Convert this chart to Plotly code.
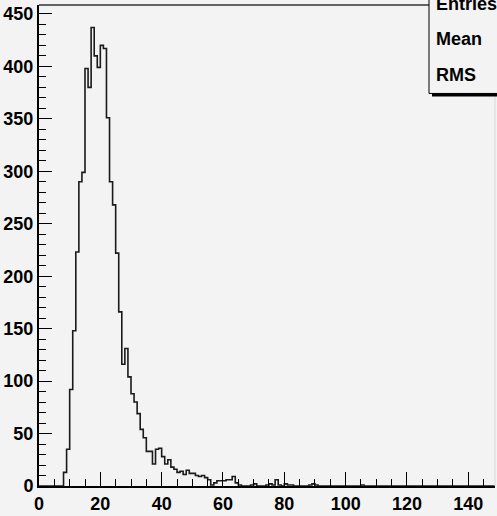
import numpy as np
import plotly.graph_objects as go

# Histogram contents, one entry per unit-width bin starting at x = 0
counts = [
    0, 0, 0, 0, 0, 0, 0, 0, 13, 35,            # 0-9
    92, 148, 223, 290, 299, 398, 380, 437, 410, 399,   # 10-19
    420, 417, 351, 290, 268, 222, 166, 116, 131, 104,  # 20-29
    88, 80, 69, 54, 46, 33, 33, 21, 35, 36,     # 30-39
    28, 21, 25, 18, 16, 13, 14, 11, 15, 12,     # 40-49
    12, 10, 9, 10, 8, 6, 1, 3, 5, 5,            # 50-59
    5, 6, 6, 9, 3, 1, 0, 0, 0, 1,               # 60-69
    2, 0, 0, 0, 1, 2, 1, 6, 1, 0,               # 70-79
    2, 1, 1, 0, 0, 0, 0, 0, 1, 2,               # 80-89
    1, 0, 0, 0, 0, 0, 0, 0, 0, 0,               # 90-99
    0, 0, 0, 0, 0, 1, 0, 0, 0, 0,               # 100-109
    0, 0, 0, 0, 0, 0, 0, 0, 0, 0,               # 110-119
    0, 0, 0, 0, 0, 0, 0, 0, 0, 0,               # 120-129
    0, 0, 0, 0, 0, 0, 0, 0, 0, 0,               # 130-139
    0, 0, 0, 0, 0, 0, 0, 0, 0,                  # 140-148
]
bin_width = 1.0
x_low = 0.0

stat_labels = ["Entries", "Mean", "RMS"]

x_range = [0, 148.7]
y_range = [0, 458.5]

BG = "#f3f3f3"
FONT = "Liberation Sans Narrow, Arial Narrow, Liberation Sans, Arial"

edges = x_low + bin_width * np.arange(len(counts) + 1)
ys = list(counts) + [counts[-1]]

fig = go.Figure()
fig.add_trace(go.Scatter(
    x=edges, y=ys, mode="lines", line_shape="hv",
    line=dict(color="#1a1a1a", width=1.6),
    hoverinfo="skip", showlegend=False,
))

W, H = 497, 516
L, R, T, B = 39, 2, 5, 27
pw, ph = W - L - R, H - T - B


def px_x(px):
    return (px - L) / pw


def px_y(py):
    return (H - B - py) / ph


# frame: thin top and right edges
fig.add_shape(type="line", xref="paper", yref="paper",
              x0=0, x1=px_x(429), y0=1, y1=1,
              line=dict(color="#333333", width=1.5))
fig.add_shape(type="line", xref="paper", yref="paper",
              x0=1, x1=1, y0=0, y1=1,
              line=dict(color="#d8d8d8", width=1))

# statistics box with drop shadow
fig.add_shape(type="rect", xref="paper", yref="paper",
              x0=px_x(432), x1=px_x(510), y0=px_y(97), y1=px_y(-20),
              line=dict(width=0), fillcolor="black")
fig.add_shape(type="rect", xref="paper", yref="paper",
              x0=px_x(429), x1=px_x(510), y0=px_y(94), y1=px_y(-20),
              line=dict(color="black", width=1), fillcolor=BG)

for label, yc in zip(stat_labels, [4, 39, 75]):
    fig.add_annotation(
        text=label, xref="paper", yref="paper",
        x=px_x(434), y=px_y(yc), xanchor="left", yanchor="middle",
        showarrow=False,
        font=dict(family=FONT, size=18, color="black", weight="bold"),
    )

tickfont = dict(family=FONT, size=18, color="black", weight="bold")

fig.update_xaxes(
    range=x_range, showgrid=False, zeroline=False,
    showline=True, linecolor="black", linewidth=2,
    ticks="inside", ticklen=14, tickwidth=1.2, tickcolor="black",
    dtick=20, tick0=0, tickfont=tickfont,
    minor=dict(dtick=5, ticks="inside", ticklen=7, tickwidth=1.2,
               tickcolor="black", showgrid=False),
)
fig.update_yaxes(
    range=y_range, showgrid=False, zeroline=False,
    showline=True, linecolor="black", linewidth=2,
    ticks="inside", ticklen=13, tickwidth=1.2, tickcolor="black",
    dtick=50, tick0=0, tickfont=tickfont,
    minor=dict(dtick=10, ticks="inside", ticklen=7, tickwidth=1.2,
               tickcolor="black", showgrid=False),
)

fig.update_layout(
    width=W, height=H,
    margin=dict(l=L, r=R, t=T, b=B, pad=0),
    paper_bgcolor=BG, plot_bgcolor=BG,
    showlegend=False,
)

fig.write_html("out.html")
